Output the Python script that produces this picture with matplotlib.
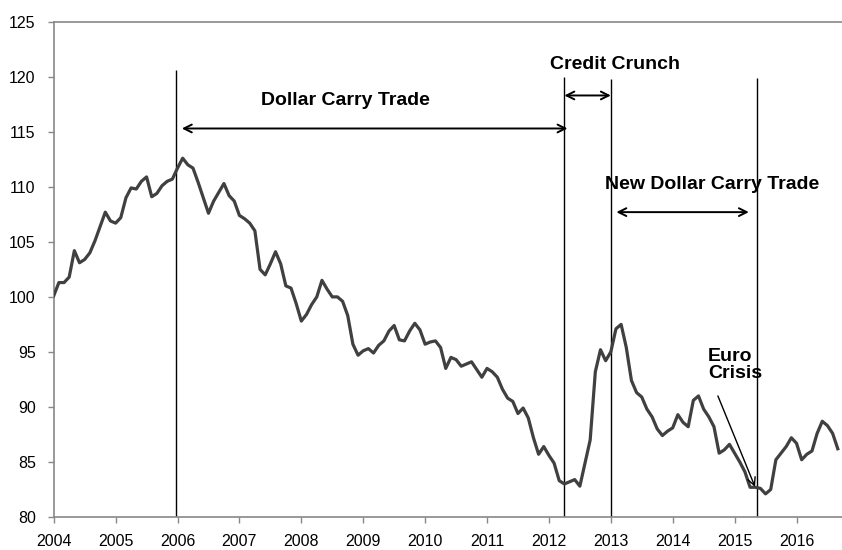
#Se importan las librerias
import numpy as np
import matplotlib.pyplot as plt

#Datos mensuales desde enero 2004
inicio = 2004
valores = [
    100.1, 101.3, 101.3, 101.8, 104.2, 103.1, 103.4, 104.0, 105.1, 106.4, 107.7, 106.9,
    106.7, 107.2, 109.0, 109.9, 109.8, 110.5, 110.9, 109.1, 109.4, 110.1, 110.5, 110.7,
    111.7, 112.6, 112.0, 111.7, 110.4, 109.0, 107.6, 108.7, 109.5, 110.3, 109.2, 108.7,
    107.4, 107.1, 106.7, 106.0, 102.5, 102.0, 103.0, 104.1, 103.0, 101.0, 100.8, 99.4,
    97.8, 98.4, 99.3, 100.0, 101.5, 100.7, 100.0, 100.0, 99.6, 98.3, 95.7, 94.7,
    95.1, 95.3, 94.9, 95.6, 96.0, 96.9, 97.4, 96.1, 96.0, 96.9, 97.6, 97.0,
    95.7, 95.9, 96.0, 95.4, 93.5, 94.5, 94.3, 93.7, 93.9, 94.1, 93.4, 92.7,
    93.5, 93.2, 92.7, 91.6, 90.8, 90.5, 89.4, 89.9, 89.0, 87.2, 85.7, 86.4,
    85.6, 84.9, 83.3, 83.0, 83.2, 83.4, 82.8, 84.9, 87.0, 93.2, 95.2, 94.2,
    95.0, 97.1, 97.5, 95.4, 92.4, 91.3, 90.9, 89.8, 89.1, 88.0, 87.4, 87.8,
    88.1, 89.3, 88.6, 88.2, 90.6, 91.0, 89.8, 89.1, 88.2, 85.8, 86.1, 86.6,
    85.8, 85.0, 84.1, 82.7, 82.7, 82.6, 82.1, 82.5, 85.2, 85.8, 86.4, 87.2,
    86.7, 85.2, 85.7, 86.0, 87.6, 88.7, 88.3, 87.6, 86.2,
]
anios = [2004, 2005, 2006, 2007, 2008, 2009, 2010, 2011, 2012, 2013, 2014, 2015, 2016]
marcas_y = [80, 85, 90, 95, 100, 105, 110, 115, 120, 125]

#Lineas verticales (fecha, altura)
lineas_fecha = [2005.97, 2012.24, 2013.0, 2015.36]
lineas_alto = [120.6, 120.0, 119.8, 119.9]

#Flechas de los periodos (inicio, fin, altura)
flechas = [(2006.07, 2012.3, 115.3), (2012.25, 2013.0, 118.3), (2013.09, 2015.23, 107.7)]
textos = [("Dollar Carry Trade", 2008.71, 117.8),
          ("Credit Crunch", 2013.06, 121.1),
          ("New Dollar Carry Trade", 2014.64, 110.2)]

#Eje x en fracciones de año
x = inicio + np.arange(len(valores)) / 12.0

plt.rcParams['font.family'] = ['Liberation Sans', 'DejaVu Sans']
fig = plt.figure(figsize=(8.42, 5.5), dpi=100)
ax = fig.add_axes([0.0638, 0.06, 0.9362, 0.9005])

#Serie principal
ax.plot(x, valores, color='#404040', linewidth=2.3, zorder=3)

#Lineas verticales
for f, h in zip(lineas_fecha, lineas_alto):
    ax.vlines(f, 80, h, color='black', linewidth=1.0, zorder=2)

#Flechas dobles y sus textos
for a, b, h in flechas:
    ax.annotate('', xy=(b, h), xytext=(a, h),
                arrowprops=dict(arrowstyle='<->', color='black', lw=1.4,
                                shrinkA=0, shrinkB=0, mutation_scale=14))
for t, tx, ty in textos:
    ax.text(tx, ty, t, ha='center', va='center', fontsize=14, fontweight='bold')

#Euro Crisis con su flecha
ax.text(2014.57, 93.8, "Euro\nCrisis", ha='left', va='center', fontsize=14,
        fontweight='bold', linespacing=1.05)
ax.annotate('', xy=(2015.33, 82.74), xytext=(2014.73, 91.0),
            arrowprops=dict(arrowstyle='->', color='black', lw=1.0,
                            shrinkA=0, shrinkB=0, mutation_scale=14))

#Ejes
ax.set_xlim(2004, 2016.735)
ax.set_ylim(80, 125)
ax.set_xticks(anios)
ax.set_xticklabels([str(a) for a in anios])
ax.set_yticks(marcas_y)
ax.tick_params(axis='both', direction='out', length=4, width=1, color='#888888',
               labelsize=11.5, labelcolor='black')
ax.tick_params(axis='x', pad=8)
ax.tick_params(axis='y', pad=9)
for lado in ['left', 'bottom', 'top']:
    ax.spines[lado].set_color('#888888')
    ax.spines[lado].set_linewidth(1.2)
ax.spines['right'].set_visible(False)

plt.savefig('out.png', dpi=100)
